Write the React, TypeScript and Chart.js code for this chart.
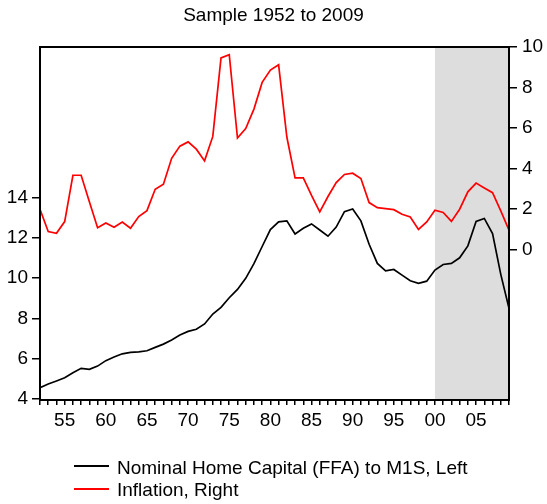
import React, { useEffect, useRef } from "react";
import { Chart, registerables } from "chart.js";

Chart.register(...registerables);

const years: number[] = [
  1952, 1953, 1954, 1955, 1956, 1957, 1958, 1959, 1960, 1961,
  1962, 1963, 1964, 1965, 1966, 1967, 1968, 1969, 1970, 1971,
  1972, 1973, 1974, 1975, 1976, 1977, 1978, 1979, 1980, 1981,
  1982, 1983, 1984, 1985, 1986, 1987, 1988, 1989, 1990, 1991,
  1992, 1993, 1994, 1995, 1996, 1997, 1998, 1999, 2000, 2001,
  2002, 2003, 2004, 2005, 2006, 2007, 2008, 2009,
];

// Nominal Home Capital (FFA) to M1S, left axis
const homeCapital: number[] = [
  4.56, 4.74, 4.89, 5.05, 5.3, 5.52, 5.47, 5.63, 5.9, 6.08,
  6.24, 6.31, 6.34, 6.39, 6.56, 6.72, 6.92, 7.17, 7.35, 7.46,
  7.72, 8.21, 8.54, 9.02, 9.43, 9.98, 10.71, 11.56, 12.4, 12.78,
  12.83, 12.18, 12.46, 12.68, 12.38, 12.07, 12.52, 13.29, 13.42, 12.83,
  11.67, 10.72, 10.35, 10.42, 10.14, 9.86, 9.73, 9.84, 10.39, 10.67,
  10.72, 11.0, 11.59, 12.8, 12.95, 12.2, 10.18, 8.49,
];

// Inflation, right axis
const inflation: number[] = [
  1.98, 0.88, 0.79, 1.37, 3.66, 3.66, 2.35, 1.07, 1.3, 1.09,
  1.35, 1.04, 1.62, 1.91, 2.97, 3.22, 4.5, 5.1, 5.31, 4.95,
  4.37, 5.58, 9.46, 9.62, 5.5, 5.97, 6.93, 8.25, 8.86, 9.12,
  5.55, 3.53, 3.53, 2.66, 1.85, 2.61, 3.3, 3.7, 3.76, 3.5,
  2.31, 2.06, 2.01, 1.96, 1.73, 1.6, 0.98, 1.35, 1.93, 1.82,
  1.38, 1.98, 2.84, 3.27, 3.03, 2.8, 1.9, 0.95,
];

const leftTicks: number[] = [4, 6, 8, 10, 12, 14];
const rightTicks: number[] = [0, 2, 4, 6, 8, 10];
const xLabelYears: number[] = [1955, 1960, 1965, 1970, 1975, 1980, 1985, 1990, 1995, 2000, 2005];
const shadeStart = 2000;
const shadeEnd = 2009;

const titleText = "Sample 1952 to 2009";
const seriesNames: string[] = ["Nominal Home Capital (FFA) to M1S, Left", "Inflation, Right"];
const seriesColors: string[] = ["#000000", "#ff0000"];

const FONT = '"Liberation Sans", Arial, Helvetica, sans-serif';

const shadePlugin = {
  id: "shade",
  beforeDatasetsDraw(chart: any) {
    const { ctx, chartArea, scales } = chart;
    const x0 = scales.x.getPixelForValue(shadeStart);
    const x1 = scales.x.getPixelForValue(shadeEnd);
    ctx.save();
    ctx.fillStyle = "#dddddd";
    ctx.fillRect(x0, chartArea.top, x1 - x0, chartArea.bottom - chartArea.top);
    ctx.restore();
  },
  afterDatasetsDraw(chart: any) {
    const { ctx, chartArea } = chart;
    ctx.save();
    ctx.strokeStyle = "#000";
    ctx.lineWidth = 2;
    ctx.strokeRect(
      chartArea.left,
      chartArea.top,
      chartArea.right - chartArea.left,
      chartArea.bottom - chartArea.top
    );
    ctx.restore();
  },
};

export default function App() {
  const canvasRef = useRef<HTMLCanvasElement | null>(null);

  useEffect(() => {
    if (!canvasRef.current) return;
    Chart.defaults.font.family = FONT;
    const chart = new Chart(canvasRef.current, {
      type: "line",
      data: {
        datasets: [
          {
            label: seriesNames[0],
            data: years.map((y, i) => ({ x: y, y: homeCapital[i] })),
            borderColor: seriesColors[0],
            borderWidth: 1.7,
            pointRadius: 0,
            tension: 0,
            yAxisID: "yL",
          },
          {
            label: seriesNames[1],
            data: years.map((y, i) => ({ x: y, y: inflation[i] })),
            borderColor: seriesColors[1],
            borderWidth: 1.7,
            pointRadius: 0,
            tension: 0,
            yAxisID: "yR",
          },
        ],
      },
      options: {
        animation: false,
        responsive: false,
        layout: { padding: { top: 47, left: 0, right: 0, bottom: 0 } },
        plugins: {
          legend: { display: false },
          title: { display: false },
          tooltip: { enabled: false },
        },
        scales: {
          x: {
            type: "linear",
            position: "bottom",
            min: years[0],
            max: years[years.length - 1],
            afterBuildTicks: (s: any) => {
              s.ticks = years.map((v) => ({ value: v }));
            },
            afterFit: (s: any) => {
              s.height = 104;
            },
            ticks: {
              autoSkip: false,
              maxRotation: 0,
              minRotation: 0,
              padding: 4,
              color: "#000",
              font: { size: 19, family: FONT },
              callback: (v: any) =>
                xLabelYears.includes(Number(v)) ? String(v).slice(2) : "",
            },
            grid: {
              drawOnChartArea: false,
              drawTicks: true,
              tickLength: 5,
              color: "#000",
              lineWidth: 1.5,
            },
            border: { display: false },
          },
          yL: {
            type: "linear",
            position: "left",
            min: 3.95,
            max: 21.45,
            afterBuildTicks: (s: any) => {
              s.ticks = leftTicks.map((v) => ({ value: v }));
            },
            afterFit: (s: any) => {
              s.width = 40;
            },
            ticks: {
              padding: 4,
              color: "#000",
              font: { size: 19, family: FONT },
              callback: (v: any) => String(v),
            },
            grid: {
              drawOnChartArea: false,
              drawTicks: true,
              tickLength: 8,
              color: "#000",
              lineWidth: 1.5,
            },
            border: { display: false },
          },
          yR: {
            type: "linear",
            position: "right",
            min: -7.45,
            max: 10,
            afterBuildTicks: (s: any) => {
              s.ticks = rightTicks.map((v) => ({ value: v }));
            },
            afterFit: (s: any) => {
              s.width = 38;
            },
            ticks: {
              padding: 5,
              color: "#000",
              font: { size: 19, family: FONT },
              callback: (v: any) => String(v),
            },
            grid: {
              drawOnChartArea: false,
              drawTicks: true,
              tickLength: 8,
              color: "#000",
              lineWidth: 1.5,
            },
            border: { display: false },
          },
        },
      } as any,
      plugins: [shadePlugin],
    });
    return () => chart.destroy();
  }, []);

  const textStyle: React.CSSProperties = {
    position: "absolute",
    fontFamily: FONT,
    fontSize: 19,
    color: "#000",
    whiteSpace: "nowrap",
  };

  return (
    <div style={{ position: "absolute", left: 0, top: 0, width: 547, height: 504, background: "#fff" }}>
      <canvas ref={canvasRef} width={547} height={504} style={{ position: "absolute", left: 0, top: 0 }} />
      <div style={{ ...textStyle, left: 0, top: 4, width: 547, textAlign: "center" }}>{titleText}</div>
      {seriesNames.map((name, i) => (
        <React.Fragment key={name}>
          <div
            style={{
              position: "absolute",
              left: 74,
              top: 464.5 + i * 23.5,
              width: 35,
              height: 2,
              background: seriesColors[i],
            }}
          />
          <div style={{ ...textStyle, left: 117, top: 456.5 + i * 22 }}>{name}</div>
        </React.Fragment>
      ))}
    </div>
  );
}
